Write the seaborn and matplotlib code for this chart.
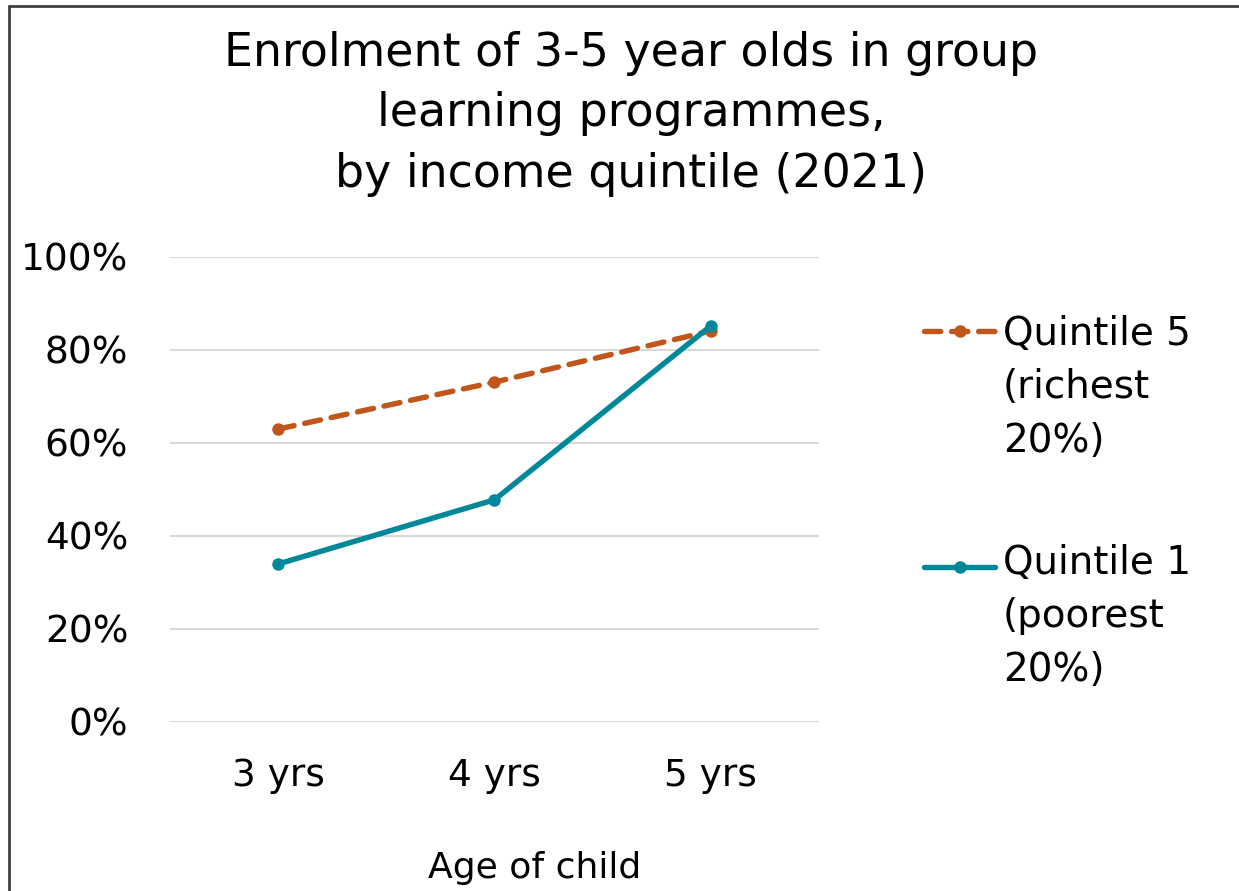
import matplotlib
matplotlib.use("Agg")
import matplotlib.pyplot as plt
from matplotlib.lines import Line2D
from matplotlib.ticker import PercentFormatter
import seaborn as sns
import pandas as pd

ages = ["3 yrs", "4 yrs", "5 yrs"]
quintile5 = [62.9, 73.0, 84.0]
quintile1 = [33.9, 47.7, 85.1]
series_names = ["Quintile 5\n(richest\n20%)", "Quintile 1\n(poorest\n20%)"]
series_colors = ["#C0561B", "#00889A"]

df = pd.DataFrame({
    "age": ages * 2,
    "value": quintile5 + quintile1,
    "series": [series_names[0]] * 3 + [series_names[1]] * 3,
})

sns.set_theme(style="white")
plt.rcParams["font.family"] = ["DejaVu Sans"]
plt.rcParams["text.color"] = "black"

W, H = 1239, 891
fig = plt.figure(figsize=(W / 100, H / 100), dpi=100)
ax = fig.add_axes([170 / W, 1 - 721.7 / H, 649 / W, 465.2 / H])

palette = dict(zip(series_names, series_colors))
sns.lineplot(
    data=df, x="age", y="value", hue="series", style="series",
    palette=palette, dashes={series_names[0]: (3.0, 2.0), series_names[1]: ""},
    markers={series_names[0]: "o", series_names[1]: "o"},
    markersize=9, markeredgewidth=0, linewidth=3.9, ax=ax, legend=False,
    sort=False,
)
for line in ax.lines:
    line.set_dash_capstyle("round")
    line.set_solid_capstyle("round")

ax.set_xlim(-0.5, 2.5)
ax.set_ylim(0, 100)
ax.set_yticks(range(0, 101, 20))
ax.yaxis.set_major_formatter(PercentFormatter(decimals=0))
ax.grid(axis="y", color="#D9D9D9", linewidth=1.5)
ax.set_axisbelow(True)
for s in ax.spines.values():
    s.set_visible(False)
ax.tick_params(axis="both", length=0, labelsize=27, colors="black")
ax.tick_params(axis="y", pad=30)
ax.tick_params(axis="x", pad=26)
ax.set_xlabel("")
ax.set_ylabel("")

# multi-line texts are anchored on the baseline of their last line
fig.text(631 / W, 1 - 187 / H,
         "Enrolment of 3-5 year olds in group\nlearning programmes,\nby income quintile (2021)",
         ha="center", va="baseline", fontsize=33, linespacing=1.45)
fig.text(535 / W, 1 - 878 / H, "Age of child", ha="center", va="baseline", fontsize=26)

# legend entries drawn beside the plot: (handle y, last baseline y) in pixels
legend_rows = [(331, 452, 0), (567, 681, 1)]
for yhandle, ybase, i in legend_rows:
    yf = 1 - yhandle / H
    ls = (0, (3.0, 2.0)) if i == 0 else "-"
    fig.add_artist(Line2D([924 / W, 995 / W], [yf, yf], transform=fig.transFigure,
                          color=series_colors[i], linewidth=3.9, linestyle=ls,
                          dash_capstyle="round", solid_capstyle="round"))
    fig.add_artist(Line2D([959.5 / W], [yf], transform=fig.transFigure, marker="o",
                          markersize=9, markeredgewidth=0, color=series_colors[i]))
    fig.text(1003 / W, 1 - ybase / H, series_names[i], ha="left", va="baseline",
             fontsize=28, linespacing=1.52)

# chart frame
fig.add_artist(Line2D([9 / W, 9 / W], [0, 1 - 6 / H], transform=fig.transFigure,
                      color="#404040", linewidth=2))
fig.add_artist(Line2D([9 / W, 1], [1 - 6 / H, 1 - 6 / H], transform=fig.transFigure,
                      color="#404040", linewidth=2))

fig.savefig("out.png", dpi=100, facecolor="white")
